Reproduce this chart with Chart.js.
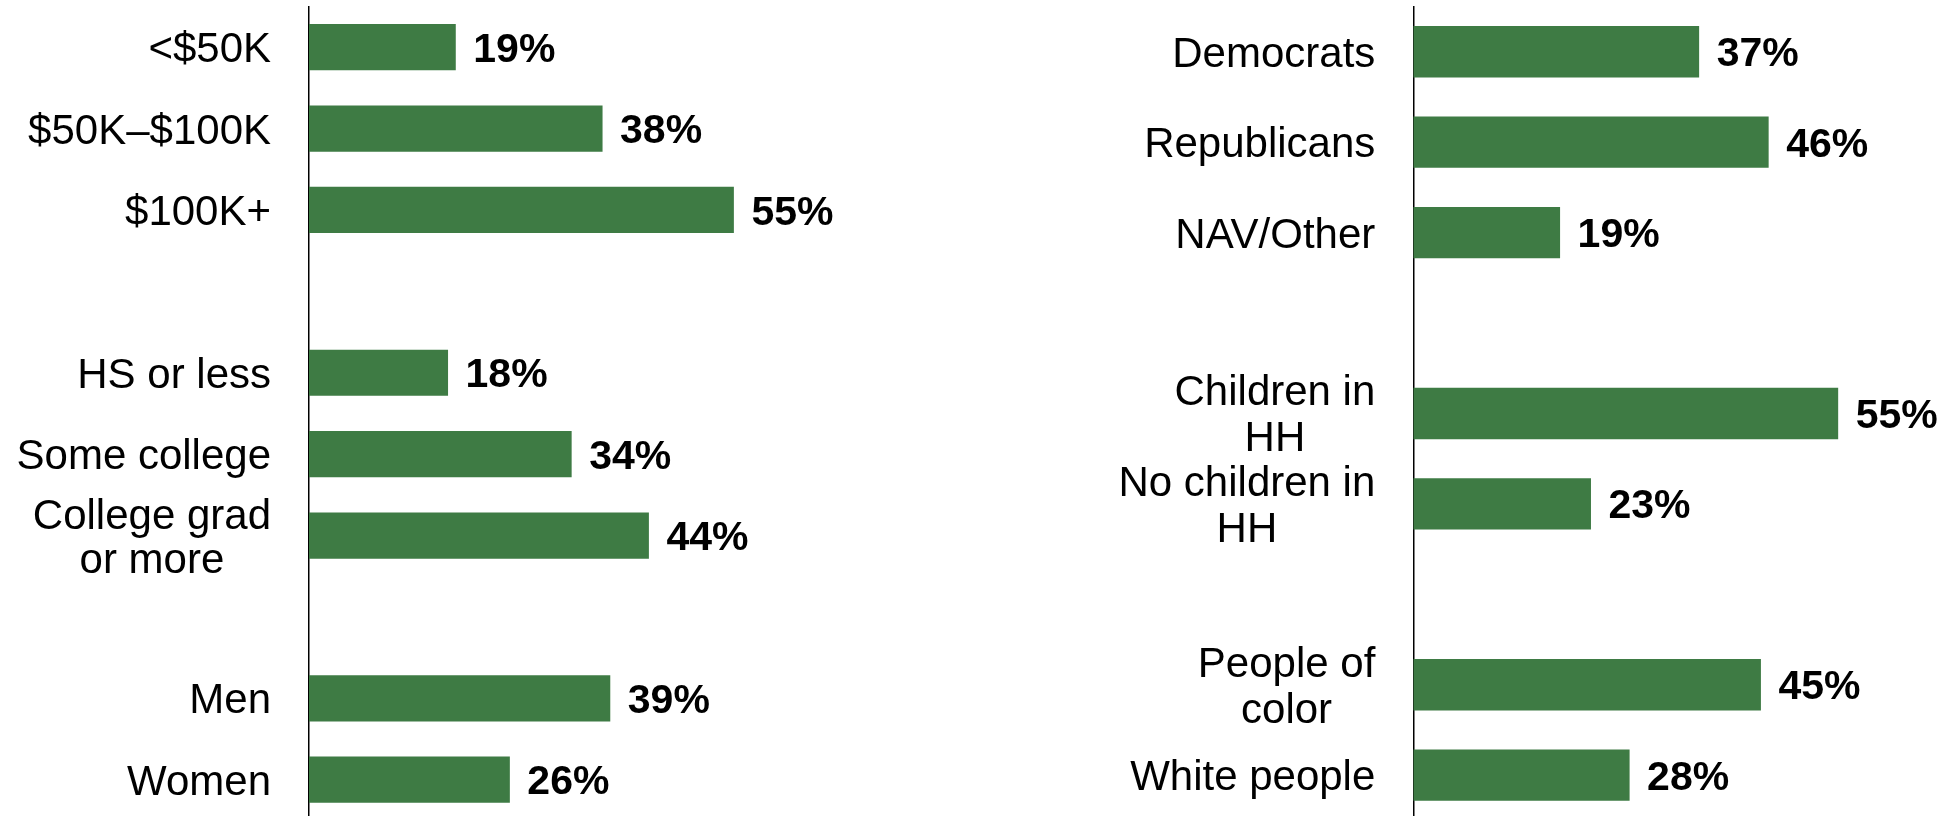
<!DOCTYPE html>
<html>
<head>
<meta charset="utf-8">
<script src="https://cdn.jsdelivr.net/npm/chart.js@4.4.1/dist/chart.umd.min.js"></script>
<style>
  html, body { margin: 0; padding: 0; background: #fff; overflow: hidden; }
  #wrap { position: relative; width: 1948px; height: 816px; overflow: hidden; }
  .box { position: absolute; top: 0; width: 974px; height: 822px; }
  #boxLeft { left: 0; }
  #boxRight { left: 974px; }
</style>
</head>
<body>
<div id="wrap">
  <div class="box" id="boxLeft"><canvas id="chartLeft" width="974" height="822"></canvas></div>
  <div class="box" id="boxRight"><canvas id="chartRight" width="974" height="822"></canvas></div>
</div>
<script>
/* ==========================================================================
   1. DATA
   ========================================================================== */
const incomeLabels = ['<$50K', '$50K–$100K', '$100K+'];
const incomeValues = [19, 38, 55];

const educationLabels = ['HS or less', 'Some college', ['College grad', 'or more']];
const educationValues = [18, 34, 44];

const genderLabels = ['Men', 'Women'];
const genderValues = [39, 26];

const partyLabels = ['Democrats', 'Republicans', 'NAV/Other'];
const partyValues = [37, 46, 19];

const childrenLabels = [['Children in', 'HH'], ['No children in', 'HH']];
const childrenValues = [55, 23];

const raceLabels = [['People of', 'color'], 'White people'];
const raceValues = [45, 28];

const xMax = 60;
const barColor = '#3e7b44';
const fontFamily = '"Liberation Sans", Arial, sans-serif';

/* ==========================================================================
   2. HELPERS
   ========================================================================== */

// groups are joined with one empty category between them
function joinGroups(groups) {
    const labels = [];
    const values = [];
    groups.forEach((g, i) => {
        if (i > 0) { labels.push(''); values.push(null); }
        g[0].forEach(l => labels.push(l));
        g[1].forEach(v => values.push(v));
    });
    return { labels, values };
}

// category names (right aligned block, lines centred) + value labels
const labelPlugin = {
    id: 'labels',
    afterDatasetsDraw(chart, args, opts) {
        const ctx = chart.ctx;
        const yScale = chart.scales.y;
        const area = chart.chartArea;
        ctx.save();
        ctx.fillStyle = '#000';
        ctx.textBaseline = 'alphabetic';

        ctx.font = '42px ' + fontFamily;
        ctx.textAlign = 'center';
        chart.data.labels.forEach((lab, i) => {
            if (!lab) return;
            const lines = Array.isArray(lab) ? lab : [lab];
            const w = Math.max(...lines.map(l => ctx.measureText(l).width));
            const cx = area.left - opts.gap - w / 2;
            const cy = yScale.getPixelForTick(i);
            lines.forEach((l, j) => {
                const ly = cy + (j - (lines.length - 1) / 2) * opts.lineHeight;
                ctx.fillText(l, cx, ly + 15);
            });
        });

        ctx.font = 'bold 41px ' + fontFamily;
        ctx.textAlign = 'left';
        const data = chart.data.datasets[0].data;
        chart.getDatasetMeta(0).data.forEach((bar, i) => {
            if (data[i] == null) return;
            ctx.fillText(data[i] + '%', bar.x + 17.5, bar.y + 14.6);
        });
        ctx.restore();
    }
};

function makeChart(canvasId, groups, axisWidth, padRight, lineHeight) {
    const d = joinGroups(groups);
    return new Chart(document.getElementById(canvasId), {
        type: 'bar',
        data: {
            labels: d.labels,
            datasets: [{
                data: d.values,
                backgroundColor: barColor,
                categoryPercentage: 1,
                barPercentage: 0.568
            }]
        },
        options: {
            indexAxis: 'y',
            responsive: false,
            animation: false,
            layout: { padding: { left: 0, right: padRight, top: 6.5, bottom: 1.6 } },
            scales: {
                x: { type: 'linear', min: 0, max: xMax, display: false },
                y: {
                    z: 1,
                    grid: { display: false, drawTicks: false },
                    border: { display: true, color: '#000', width: 1.5 },
                    ticks: { display: false },
                    afterFit: (scale) => { scale.width = axisWidth; }
                }
            },
            plugins: {
                legend: { display: false },
                tooltip: { enabled: false },
                labels: { gap: 38, lineHeight: lineHeight }
            }
        },
        plugins: [labelPlugin]
    });
}

/* ==========================================================================
   3. CHARTS
   ========================================================================== */
makeChart('chartLeft', [
    [incomeLabels, incomeValues],
    [educationLabels, educationValues],
    [genderLabels, genderValues]
], 309, 201.5, 44);

makeChart('chartRight', [
    [partyLabels, partyValues],
    [childrenLabels, childrenValues],
    [raceLabels, raceValues]
], 439.3, 71.2, 46);
</script>
</body>
</html>
